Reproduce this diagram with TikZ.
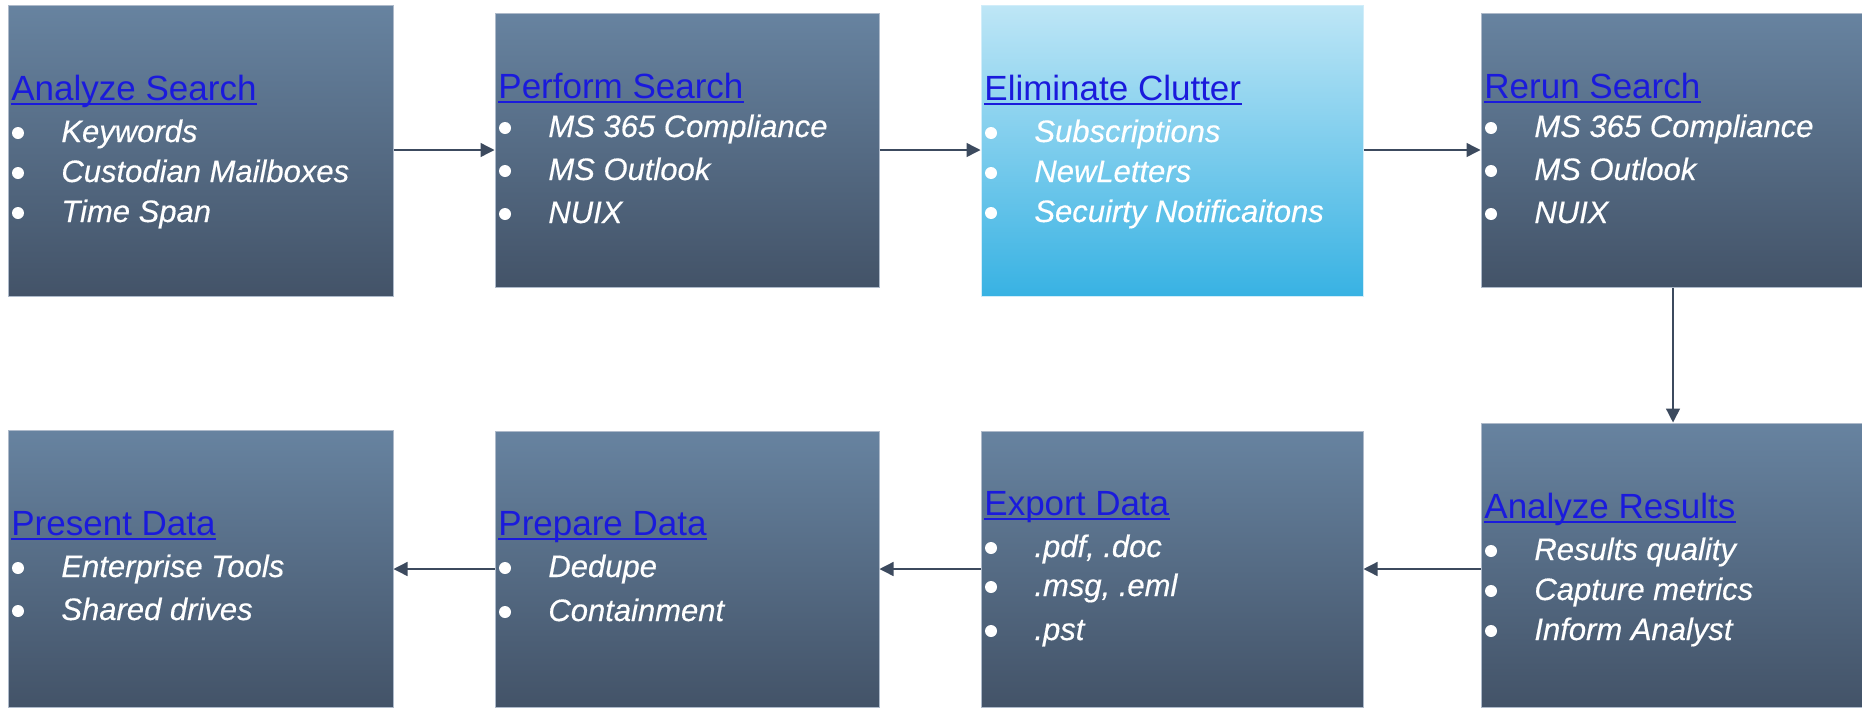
\documentclass[tikz,border=0pt]{standalone}
\usepackage{fontspec}
\setmainfont{Liberation Sans}
\newfontfamily\itemfont[ItalicFeatures={FakeBold=0.4}]{Liberation Sans}
\usetikzlibrary{arrows.meta}
\definecolor{slateTop}{HTML}{6783A0}
\definecolor{slateBot}{HTML}{435368}
\definecolor{cyanTop}{HTML}{BEE6F6}
\definecolor{cyanBot}{HTML}{38B2E3}
\definecolor{edgeC}{HTML}{AEBACA}
\definecolor{linkC}{HTML}{1A1ADC}
\definecolor{arrC}{HTML}{3C4A5E}
\newcommand{\hdline}[4]{%
  \node[headtext] (#1) at ({#2+3},#3) {#4};
  \draw[ulline] ([yshift=-2pt]#1.base west) -- ([yshift=-2pt]#1.base east);}
\newcommand{\bitem}[4]{%
  \node[bulletdot] (#1b) at ({#2+10},{#3-9}) {};
  \node[itemtext] (#1) at ({#2+53},#3) {#4};}
\begin{document}
\begin{tikzpicture}[x=0.5pt,y=-0.5pt,
  boxnode/.style={shade, top color=slateTop, bottom color=slateBot, draw=edgeC, line width=0.5pt, inner sep=0pt},
  cyanbox/.style={shade, top color=cyanTop, bottom color=cyanBot, draw=cyanTop!70!white, line width=0.5pt, inner sep=0pt},
  headtext/.style={anchor=base west, inner sep=0pt, text=linkC, font=\fontsize{17.5}{20}\selectfont},
  ulline/.style={draw=linkC, line width=0.75pt},
  itemtext/.style={anchor=base west, inner sep=0pt, text=white, font=\itemfont\fontsize{15.5}{18}\selectfont\itshape},
  bulletdot/.style={circle, fill=white, inner sep=0pt, minimum size=6pt},
  arr/.style={draw=arrC, line width=0.7pt, -{Triangle[length=7pt,width=7pt]}}
]
\useasboundingbox (0,0) rectangle (1862,707);
% boxes
\node[boxnode, minimum width=192.5pt, minimum height=145.5pt] (b1) at (200.5,150.5) {};
\node[boxnode, minimum width=192pt, minimum height=137pt] (b2) at (687,150) {};
\node[cyanbox, minimum width=191pt, minimum height=145.5pt] (b3) at (1172,150.5) {};
\node[boxnode, minimum width=192pt, minimum height=137pt] (b4) at (1673,150) {};
\node[boxnode, minimum width=192.5pt, minimum height=138.5pt] (b5) at (200.5,568.5) {};
\node[boxnode, minimum width=192pt, minimum height=138pt] (b6) at (687,569) {};
\node[boxnode, minimum width=191pt, minimum height=138pt] (b7) at (1172,569) {};
\node[boxnode, minimum width=192pt, minimum height=142pt] (b8) at (1673,565) {};
% texts
\hdline{h1}{8}{100}{Analyze Search}
\bitem{i11}{8}{142}{Keywords}
\bitem{i12}{8}{182}{Custodian Mailboxes}
\bitem{i13}{8}{222}{Time Span}
\hdline{h2}{495}{98}{Perform Search}
\bitem{i21}{495}{137}{MS 365 Compliance}
\bitem{i22}{495}{180}{MS Outlook}
\bitem{i23}{495}{223}{NUIX}
\hdline{h3}{981}{100}{Eliminate Clutter}
\bitem{i31}{981}{142}{Subscriptions}
\bitem{i32}{981}{182}{NewLetters}
\bitem{i33}{981}{222}{Secuirty Notificaitons}
\hdline{h4}{1481}{98}{Rerun Search}
\bitem{i41}{1481}{137}{MS 365 Compliance}
\bitem{i42}{1481}{180}{MS Outlook}
\bitem{i43}{1481}{223}{NUIX}
\hdline{h5}{8}{535}{Present Data}
\bitem{i51}{8}{577}{Enterprise Tools}
\bitem{i52}{8}{620}{Shared drives}
\hdline{h6}{495}{535}{Prepare Data}
\bitem{i61}{495}{577}{Dedupe}
\bitem{i62}{495}{621}{Containment}
\hdline{h7}{981}{515}{Export Data}
\bitem{i71}{981}{557}{.pdf, .doc}
\bitem{i72}{981}{596}{.msg, .eml}
\bitem{i73}{981}{640}{.pst}
\hdline{h8}{1481}{518}{Analyze Results}
\bitem{i81}{1481}{560}{Results quality}
\bitem{i82}{1481}{600}{Capture metrics}
\bitem{i83}{1481}{640}{Inform Analyst}
% arrows
\draw[arr] (b1.east |- b2.west) -- (b2.west);
\draw[arr] (b2.east) -- (b3.west |- b2.east);
\draw[arr] (b3.east |- b4.west) -- (b4.west);
\draw[arr] (b4.south) -- (b8.north);
\draw[arr] (b8.west |- b7.east) -- (b7.east);
\draw[arr] (b7.west) -- (b6.east);
\draw[arr] (b6.west) -- (b5.east |- b6.west);
\end{tikzpicture}
\end{document}
